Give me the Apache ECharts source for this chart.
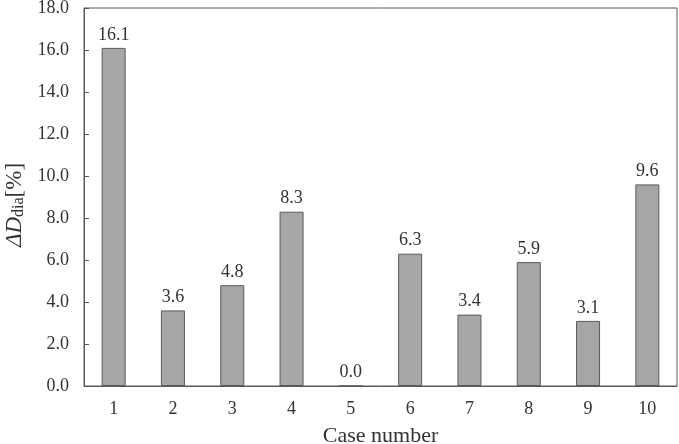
<!DOCTYPE html>
<html>
<head>
<meta charset="utf-8">
<script src="https://cdn.jsdelivr.net/npm/echarts@6/dist/echarts.min.js"></script>
<style>
    html, body { margin: 0; padding: 0; background: #fff; }
    #chart { width: 679px; height: 444px; }
</style>
</head>
<body>
<div id="chart"></div>
<script>
var caseNumbers = ['1', '2', '3', '4', '5', '6', '7', '8', '9', '10'];
var deltaDia = [16.1, 3.6, 4.8, 8.3, 0.0, 6.3, 3.4, 5.9, 3.1, 9.6];
var yMin = 0, yMax = 18, yStep = 2;

var font = '"Liberation Serif", "Times New Roman", serif';
var myChart = echarts.init(document.getElementById('chart'));
var option = {
    animation: false,
    grid: {
        left: 84,
        right: 2,
        top: 8,
        bottom: 58,
        outerBoundsMode: 'none',
        show: true,
        borderColor: '#595959',
        borderWidth: 1
    },
    xAxis: {
        type: 'category',
        data: caseNumbers,
        name: 'Case number',
        nameLocation: 'middle',
        nameGap: 39,
        nameTextStyle: { fontFamily: font, fontSize: 22, color: '#333' },
        axisLine: { lineStyle: { color: '#595959', width: 1 } },
        axisTick: { show: false },
        axisLabel: { fontFamily: font, fontSize: 18, color: '#333', margin: 14 }
    },
    yAxis: {
        type: 'value',
        min: yMin,
        max: yMax,
        interval: yStep,
        name: '{i|ΔD}{s|dia}{n|[%]}',
        nameLocation: 'middle',
        nameGap: 45,
        nameTextStyle: {
            padding: [0, 16, 0, 0],
            rich: {
                i: { fontFamily: font, fontSize: 23, fontStyle: 'italic', color: '#333', verticalAlign: 'bottom', lineHeight: 26 },
                s: { fontFamily: font, fontSize: 16, color: '#333', verticalAlign: 'bottom', lineHeight: 20 },
                n: { fontFamily: font, fontSize: 23, color: '#333', verticalAlign: 'bottom', lineHeight: 26 }
            }
        },
        axisLine: { show: true, lineStyle: { color: '#595959', width: 1 } },
        axisTick: { show: true, inside: true, length: 5, lineStyle: { color: '#595959' } },
        splitLine: { show: false },
        axisLabel: {
            fontFamily: font,
            fontSize: 18,
            color: '#333',
            margin: 15,
            formatter: function (v) { return v.toFixed(1); }
        }
    },
    series: [{
        type: 'bar',
        data: deltaDia,
        barWidth: 24,
        itemStyle: {
            color: '#a6a6a6',
            borderColor: '#5a5a5a',
            borderWidth: 1
        },
        label: {
            show: true,
            position: 'top',
            distance: 4,
            fontFamily: font,
            fontSize: 18,
            color: '#333',
            formatter: function (p) { return p.value.toFixed(1); }
        }
    }]
};
myChart.setOption(option);
</script>
</body>
</html>
